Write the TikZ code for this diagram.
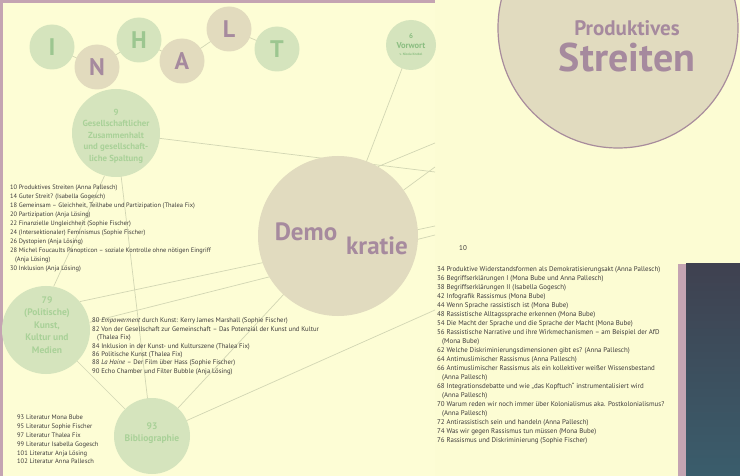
\documentclass[tikz,border=0pt]{standalone}
\usepackage{fontspec}
\setmainfont{PT Sans}
\usetikzlibrary{backgrounds}
\definecolor{leftbg}{HTML}{FDFDD5}
\definecolor{rightbg}{HTML}{FCFCD3}
\definecolor{ballgreen}{HTML}{D5E4BD}
\definecolor{letgreen}{HTML}{9CC690}
\definecolor{vorgreen}{HTML}{8CBE82}
\definecolor{ballbeige}{HTML}{E2DBBE}
\definecolor{mauvetext}{HTML}{A68A9E}
\definecolor{headgreen}{HTML}{A9D198}
\definecolor{demofill}{HTML}{E1DBBF}
\definecolor{prodline}{HTML}{A88C9C}
\definecolor{linecol}{HTML}{D2D6B3}
\definecolor{bandcol}{HTML}{C4A4B2}
\definecolor{listcol}{HTML}{3D3A3A}
\definecolor{darktop}{HTML}{3F4150}
\definecolor{darkbot}{HTML}{3A5D6C}
\begin{document}
\begin{tikzpicture}[x=1pt,y=-1pt,
  ballg/.style={circle,fill=ballgreen,inner sep=0pt,minimum size=45pt,text=letgreen,font=\fontsize{24}{24}\selectfont\bfseries},
  ballb/.style={circle,fill=ballbeige,inner sep=0pt,minimum size=45pt,text=mauvetext,font=\fontsize{24}{24}\selectfont\bfseries},
  disc/.style={circle,inner sep=0pt,draw=none},
  headtxt/.style={align=center,text=headgreen,inner sep=0pt},
  bigtxt/.style={text=mauvetext,inner sep=0pt},
  conn/.style={draw=linecol,line width=0.7pt},
  listtxt/.style={anchor=north west,align=left,inner sep=0pt,text=listcol}
]
\useasboundingbox (0,0) rectangle (740,476);

% INHALT
\node[ballg] (nI) at (52,47) {I};
\node[ballb] (nN) at (97,67) {N};
\node[ballg] (nH) at (139,40) {H};
\node[ballb] (nA) at (182,61) {A};
\node[ballb] (nL) at (229,29) {L};
\node[ballg] (nT) at (277,49) {T};

% Vorwort
\node[disc,fill=ballgreen,minimum size=50pt] (vor) at (411,45) {};
\node[headtxt,text=vorgreen,font=\fontsize{7}{7}\selectfont\bfseries] (vor6) at (411,36) {6};
\node[headtxt,text=vorgreen,font=\fontsize{8.5}{8.5}\selectfont\bfseries] (vorT) at (411,46) {Vorwort};
\node[headtxt,text=vorgreen,font=\fontsize{3.3}{3.3}\selectfont\bfseries] (vorA) at (411,54) {v. Nicola Knebel};

% Gesellschaft
\node[disc,fill=ballgreen,minimum size=88pt] (ges) at (116,133) {};
\node[headtxt,font=\fontsize{8.8}{11.6}\selectfont\bfseries] (gesT) at (116,136) {9\\Gesellschaftlicher\\Zusammenhalt\\und gesellschaft-\\liche Spaltung};

% Kunst
\node[disc,fill=ballgreen,minimum size=88pt] (k79) at (46,330) {};
\node[headtxt,font=\fontsize{9.5}{12.5}\selectfont\bfseries] (k79T) at (47,325) {79\\(Politische)\\Kunst,\\Kultur und\\Medien};

% Bibliographie
\node[disc,fill=ballgreen,minimum size=76pt] (bib) at (152,436) {};
\node[headtxt,font=\fontsize{9.5}{12.5}\selectfont\bfseries] (bibT) at (152,433) {93\\Bibliographie};

% Demokratie
\node[disc,fill=demofill,minimum size=160pt] (demo) at (338,236) {};
\node[bigtxt,font=\fontsize{25}{25}\selectfont\bfseries] (demoA) at (306,232) {Demo};
\node[bigtxt,font=\fontsize{25}{25}\selectfont\bfseries] (demoB) at (377,246) {kratie};

% Produktives Streiten
\node[disc,fill=demofill,draw=prodline,line width=1.2pt,minimum size=240pt] (prod) at (618,28) {};
\node[bigtxt,font=\fontsize{21}{21}\selectfont\bfseries] (prodA) at (627,28) {Produktives};
\node[bigtxt,font=\fontsize{40}{40}\selectfont\bfseries] (prodB) at (627,58) {Streiten};

% page number
\node[text=listcol,inner sep=0pt,font=\fontsize{7}{7}\selectfont] (pnum) at (463,248) {10};

% lists
\node[listtxt,font=\fontsize{6.4}{9}\selectfont] (list1) at (10,185) {%
10 Produktives Streiten (Anna Pallesch)\\
14 Guter Streit? (Isabella Gogesch)\\
18 Gemeinsam – Gleichheit, Teilhabe und Partizipation (Thalea Fix)\\
20 Partizipation (Anja Lösing)\\
22 Finanzielle Ungleichheit (Sophie Fischer)\\
24 (Intersektionaler) Feminismus (Sophie Fischer)\\
26 Dystopien (Anja Lösing)\\
28 Michel Foucaults Panopticon – soziale Kontrolle ohne nötigen Eingriff\\
\hspace*{5pt}(Anja Lösing)\\
30 Inklusion (Anja Lösing)};

\node[listtxt,font=\fontsize{6.7}{8.4}\selectfont] (list2) at (92,318) {%
80 \textit{Empowerment} durch Kunst: Kerry James Marshall (Sophie Fischer)\\
82 Von der Gesellschaft zur Gemeinschaft – Das Potenzial der Kunst und Kultur\\
\hspace*{5pt}(Thalea Fix)\\
84 Inklusion in der Kunst- und Kulturszene (Thalea Fix)\\
86 Politische Kunst (Thalea Fix)\\
88 \textit{La Haine} – Der Film über Hass (Sophie Fischer)\\
90 Echo Chamber und Filter Bubble (Anja Lösing)};

\node[listtxt,font=\fontsize{6.5}{8.8}\selectfont] (list3) at (17,415) {%
93 Literatur Mona Bube\\
95 Literatur Sophie Fischer\\
97 Literatur Thalea Fix\\
99 Literatur Isabella Gogesch\\
101 Literatur Anja Lösing\\
102 Literatur Anna Pallesch};

\node[listtxt,font=\fontsize{6.9}{9}\selectfont] (list4) at (437,266) {%
34 Produktive Widerstandsformen als Demokratisierungsakt (Anna Pallesch)\\
36 Begriffserklärungen I (Mona Bube und Anna Pallesch)\\
38 Begriffserklärungen II (Isabella Gogesch)\\
42 Infografik Rassismus (Mona Bube)\\
44 Wenn Sprache rassistisch ist (Mona Bube)\\
48 Rassistische Alltagssprache erkennen (Mona Bube)\\
54 Die Macht der Sprache und die Sprache der Macht (Mona Bube)\\
56 Rassistische Narrative und ihre Wirkmechanismen – am Beispiel der AfD\\
\hspace*{5pt}(Mona Bube)\\
62 Welche Diskriminierungsdimensionen gibt es? (Anna Pallesch)\\
64 Antimuslimischer Rassismus (Anna Pallesch)\\
66 Antimuslimischer Rassismus als ein kollektiver weißer Wissensbestand\\
\hspace*{5pt}(Anna Pallesch)\\
68 Integrationsdebatte und wie „das Kopftuch“ instrumentalisiert wird\\
\hspace*{5pt}(Anna Pallesch)\\
70 Warum reden wir noch immer über Kolonialismus aka. Postkolonialismus?\\
\hspace*{5pt}(Anna Pallesch)\\
72 Antirassistisch sein und handeln (Anna Pallesch)\\
74 Was wir gegen Rassismus tun müssen (Mona Bube)\\
76 Rassismus und Diskriminierung (Sophie Fischer)};

% dark panel
\fill[bandcol] (678,264) rectangle (686,476);
\shade[top color=darktop,bottom color=darkbot] (686,264) rectangle (740,476);

% fold end points
\coordinate (f1) at (435,143);
\coordinate (f2) at (435,167);
\coordinate (f3) at (435,172);
\coordinate (f4) at (435,226);
\coordinate (f5) at (435,235);
\coordinate (f6) at (435,310);

\begin{pgfonlayer}{background}
\fill[leftbg] (0,0) rectangle (435,476);
\fill[rightbg] (435,0) rectangle (740,476);
\fill[bandcol] (0,0) rectangle (435,3.5);
\fill[bandcol] (0,0) rectangle (2.5,476);
\draw[conn] (nI.center) -- (nN.center);
\draw[conn] (nN.center) -- (nH.center);
\draw[conn] (nH.center) -- (nA.center);
\draw[conn] (nA.center) -- (nL.center);
\draw[conn] (nL.center) -- (nT.center);
\draw[conn] (vor.center) -- (demo.center);
\draw[conn] (ges.center) -- (f3);
\draw[conn] (demo.60) -- (f1);
\draw[conn] (demo.35) -- (f2);
\draw[conn] (k79.40) -- (f4);
\draw[conn] (k79.10) -- (f5);
\draw[conn] (ges.255) -- (k79.80);
\draw[conn] (bib.center) -- (k79.center);
\draw[conn] (bib.center) -- (ges.center);
\draw[conn] (bib.center) -- (demo.center);
\draw[conn] (bib.center) -- (f6);
\end{pgfonlayer}
\end{tikzpicture}
\end{document}
